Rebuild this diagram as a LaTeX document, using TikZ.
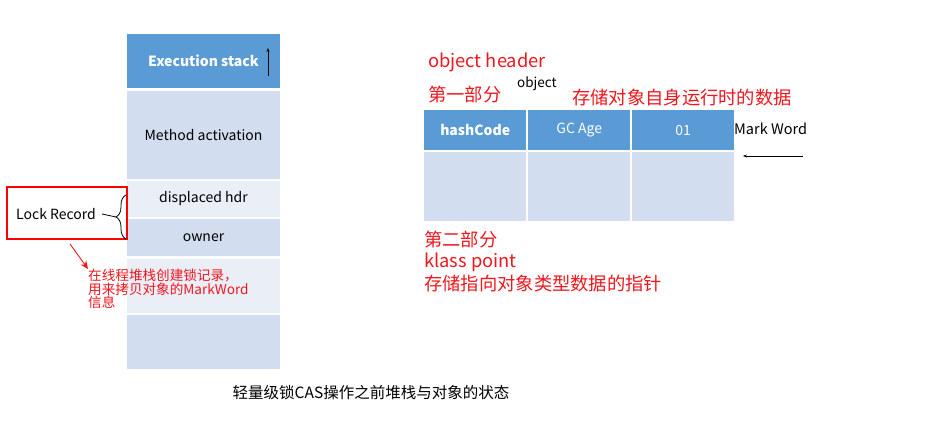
\documentclass[tikz,border=0pt]{standalone}
\usepackage{fontspec}
\setmainfont{Noto Sans CJK SC}
\usetikzlibrary{positioning, matrix, arrows.meta, decorations.pathreplacing}
\definecolor{hdrblue}{HTML}{5B9BD5}
\definecolor{cellmid}{HTML}{D2DEEF}
\definecolor{celllight}{HTML}{EAEFF7}
\definecolor{notered}{HTML}{F0161E}
\tikzset{
  stackcell/.style={minimum width=153pt, inner sep=0pt, font=\fontsize{14}{16}\selectfont},
  hdrcell/.style={fill=hdrblue, text=white, minimum height=40pt},
  redlabel/.style={text=notered, inner sep=0pt, anchor=west, font=\fontsize{18.3}{20}\selectfont},
}

\begin{document}
\begin{tikzpicture}[x=1pt, y=-1pt]
            \useasboundingbox (0,0) rectangle (925,422);
            % execution stack
            \node[stackcell, anchor=north, minimum height=54pt, fill=hdrblue, text=white] (hdr) at (203.5,34) {\textbf{Execution stack}\hspace{14pt}};
            \node[stackcell, minimum height=88pt, fill=cellmid, below=2pt of hdr] (meth) {Method activation};
            \node[stackcell, minimum height=36pt, fill=celllight, below=2pt of meth] (disp) {displaced hdr};
            \node[stackcell, minimum height=37pt, fill=cellmid, below=2pt of disp] (own) {owner};
            \node[stackcell, minimum height=54pt, fill=celllight, below=2pt of own] (free1) {};
            \node[stackcell, minimum height=54pt, fill=cellmid, below=2pt of free1] (free2) {};
            \coordinate (up0) at (268,76);
            \coordinate (up1) at (268,48);
            \draw[-{Stealth[length=4pt,width=3pt]}, line width=0.9pt] (up0) -- (up1);

            % lock record
            \node[draw, color=red, line width=1.2pt, minimum width=120pt, minimum height=52pt, inner sep=0pt] (lockbox) at (67,213) {};
            \node[inner sep=0pt, anchor=west, font=\fontsize{14}{16}\selectfont] (lock) at (16,214) {Lock Record};
            \coordinate (brtop) at (126,195);
            \coordinate (brbot) at (126,239);
            \draw[decorate, decoration={brace, amplitude=10pt}, line width=0.8pt] (brbot) -- (brtop)
                coordinate[pos=0.5, xshift=-10pt] (brtip);
            \draw[line width=0.8pt] (lock.east) ++(6pt,0) coordinate (stub) -- (brtip);
            \node[text=notered, inner sep=0pt, anchor=north west, align=left,
                  font=\fontsize{13.6}{13.5}\selectfont] (note) at (88,269)
                {在线程堆栈创建锁记录，\\用来拷贝对象的MarkWord\\信息};
            \coordinate (notefrom) at (70,244);
            \draw[notered, line width=0.9pt, -{Stealth[length=8pt,width=7pt]}] (notefrom) -- (note.north west);

            % object header
            \matrix[matrix of nodes, nodes in empty cells, anchor=north west, inner sep=0pt,
                    column sep=2pt, row sep=2pt,
                    nodes={minimum width=102pt, inner sep=0pt, anchor=center, font=\fontsize{14}{16}\selectfont},
                    row 2/.style={nodes={fill=cellmid, minimum height=69pt}}] (obj) at (424,110)
            {
                |[hdrcell]| \textbf{hashCode} & |[hdrcell]| GC Age & |[hdrcell]| 01\\
                & & \\
            };
            \node[redlabel] (ohead) at (428,62) {object header};
            \node[inner sep=0pt, anchor=west, font=\fontsize{13.5}{14}\selectfont] (objname) at (517,84) {object};
            \node[redlabel] (part1) at (428,95) {第一部分};
            \node[redlabel] (part1txt) at (572,98) {存储对象自身运行时的数据};
            \node[inner sep=0pt, anchor=west, font=\fontsize{14.5}{16}\selectfont] (mark) at (734,129) {Mark Word};
            \coordinate (markfrom) at (803,156);
            \coordinate (markto) at (743,156);
            \draw[-{Stealth[length=4pt,width=3pt]}, line width=0.7pt] (markfrom) -- (markto);
            \node[redlabel] (part2) at (424,240) {第二部分};
            \node[redlabel] (klass) at (424,262) {klass point};
            \node[redlabel] (part2txt) at (424,284) {存储指向对象类型数据的指针};

            % caption
            \node[inner sep=0pt, font=\fontsize{15.5}{18}\selectfont] (caption) at (371,393) {轻量级锁CAS操作之前堆栈与对象的状态};
        \end{tikzpicture}
\end{document}
